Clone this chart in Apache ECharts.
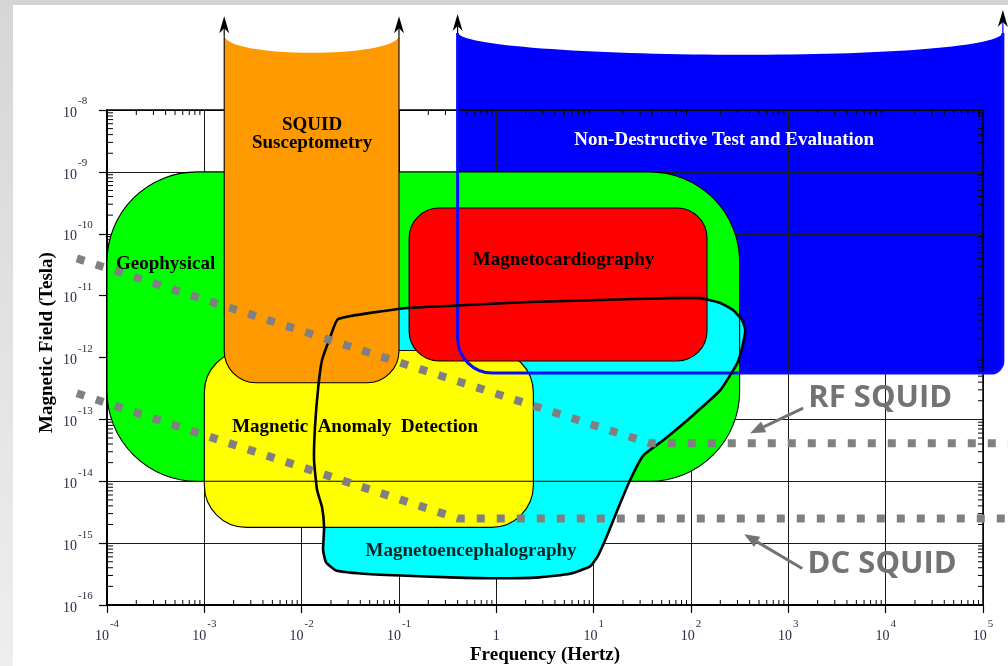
<!DOCTYPE html>
<html>
<head>
<meta charset="utf-8">
<title>SQUID applications: magnetic field vs frequency</title>
<script src="https://cdn.jsdelivr.net/npm/echarts@6/dist/echarts.min.js"></script>
<style>
  html, body { margin: 0; padding: 0; background: #fff; }
  #chart { width: 1008px; height: 666px; }
</style>
</head>
<body>
<div id="chart"></div>
<script>
// ---- axes: decades of ten (exponents) ----
const freqDecades = [-4, -3, -2, -1, 0, 1, 2, 3, 4, 5];
const fieldDecades = [-16, -15, -14, -13, -12, -11, -10, -9, -8];

// ---- application regions: [low, high] frequency (Hz) and magnetic field (T) ----
const geophysicalFreq = [1e-4, 316];
const geophysicalField = [1e-14, 1e-9];
const susceptometryFreq = [1.6e-3, 0.1];
const susceptometryField = [3.9e-13, 1.55e-7];
const cardiographyFreq = [0.127, 146];
const cardiographyField = [8.8e-13, 2.6e-10];
const anomalyFreq = [1e-3, 2.4];
const anomalyField = [1.8e-15, 1.3e-12];
const ndeFreq = [0.4, 1.6e5];
const ndeField = [5.6e-13, 1.76e-7];

// Magnetoencephalography outline (hand-drawn loop)
const megFreq = [0.0237, 0.0196, 0.0162, 0.0148, 0.0137, 0.0134, 0.0144, 0.0162, 0.0170, 0.0166,
  0.0178, 0.0226, 0.0428, 0.103, 0.335, 1.0, 2.8, 5.7, 9.2, 11.1,
  13.8, 17.5, 23.7, 32.3, 51.8, 105, 200, 299, 336, 361,
  336, 272, 200, 124, 61, 11.7, 2.2, 0.456, 0.121];
const megField = [4.2e-12, 2.1e-12, 9.1e-13, 3.3e-13, 7.5e-14, 2.2e-14, 7.2e-15, 3.8e-15, 1.8e-15, 7.7e-16,
  4.9e-16, 3.6e-16, 3.2e-16, 3.0e-16, 2.8e-16, 2.7e-16, 2.8e-16, 3.2e-16, 4.2e-16, 6.3e-16,
  1.34e-15, 3.4e-15, 1.05e-14, 2.6e-14, 4.6e-14, 1.17e-13, 2.96e-13, 8.1e-13, 1.47e-12, 2.77e-12,
  4.0e-12, 5.8e-12, 7.6e-12, 9.1e-12, 9.1e-12, 8.5e-12, 7.9e-12, 7.0e-12, 6.3e-12];

// ---- SQUID sensitivity floors ----
const rfFreq = [4.9e-5, 38, 1.8e5];
const rfField = [4.0e-11, 4.1e-14, 4.1e-14];
const dcFreq = [4.9e-5, 0.405, 1.8e5];
const dcField = [2.65e-13, 2.5e-15, 2.5e-15];

// ---- labels ----
const regionNames = ['Geophysical', 'SQUID\nSusceptometry', 'Non-Destructive Test and Evaluation',
  'Magnetocardiography', 'Magnetic  Anomaly  Detection', 'Magnetoencephalography'];
const regionLabelFreq = [4.0e-4, 0.0128, 219, 4.9, 0.0354, 0.55];
const regionLabelField = [3.2e-11, 4.1e-9, 3.3e-9, 3.75e-11, 7.5e-14, 7.4e-16];
const regionLabelColor = ['#000', '#000', '#fff', '#000', '#000', '#062626'];

const squidNames = ['RF SQUID', 'DC SQUID'];
const squidLabelFreq = [8800, 9200];
const squidLabelField = [2.2e-13, 4.55e-16];
const squidArrowFreq = [[1420, 405], [1390, 352]];
const squidArrowField = [[1.52e-13, 5.97e-14], [3.9e-16, 1.39e-15]];

// ---- styling ----
const SERIF = '"Liberation Serif", "Times New Roman", serif';
const SANS = '"Open Sans", "Noto Sans", sans-serif';
const TICK_COLOR = '#2b2b45';
const COLORS = { green: '#00ff00', orange: '#ff9900', red: '#ff0000', yellow: '#ffff00', cyan: '#00ffff', blue: '#0000ff' };

const fMin = Math.pow(10, freqDecades[0]), fMax = Math.pow(10, freqDecades[freqDecades.length - 1]);
const bMin = Math.pow(10, fieldDecades[0]), bMax = Math.pow(10, fieldDecades[fieldDecades.length - 1]);

const chart = echarts.init(document.getElementById('chart'));

function powerLabel(value, allowOne) {
  const e = Math.round(Math.log10(value));
  if (allowOne && e === 0) return '{s|\u2009}{b|1}{s|\u2009}';
  return '{b|10}{s|' + e + '}';
}

const labelRich = {
  b: { fontFamily: SERIF, fontSize: 14, color: TICK_COLOR, lineHeight: 14, verticalAlign: 'bottom' },
  s: { fontFamily: SERIF, fontSize: 11, color: TICK_COLOR, lineHeight: 11, verticalAlign: 'bottom', padding: [0, 0, 13, 1] }
};

// corner box from two data corners
function box(api, freq, field) {
  const tl = api.coord([freq[0], field[1]]);
  const br = api.coord([freq[1], field[0]]);
  return { x0: tl[0], y0: tl[1], x1: br[0], y1: br[1] };
}

function roundRect(api, freq, field, r, style, z2) {
  const b = box(api, freq, field);
  return { type: 'rect', z2, shape: { x: b.x0, y: b.y0, width: b.x1 - b.x0, height: b.y1 - b.y0, r }, style };
}

// box whose top edge sags (open-ended band running off the top of the chart)
function archedBox(api, freq, field, sag, rl, rr) {
  const b = box(api, freq, field);
  const { x0, y0, x1, y1 } = b;
  const top = `M${x0} ${y0} C${x0 + sag[0]} ${y0 + sag[1]} ${x1 - sag[2]} ${y0 + sag[3]} ${x1} ${y0}`;
  const fill = top + ` L${x1} ${y1 - rr} A${rr} ${rr} 0 0 1 ${x1 - rr} ${y1} L${x0 + rl} ${y1} A${rl} ${rl} 0 0 1 ${x0} ${y1 - rl} Z`;
  const edge = `M${x0} ${y0} L${x0} ${y1 - rl} A${rl} ${rl} 0 0 0 ${x0 + rl} ${y1} L${x1 - rr} ${y1} A${rr} ${rr} 0 0 0 ${x1} ${y1 - rr} L${x1} ${y0}`;
  return Object.assign(b, { fill, edge });
}

function upArrow(x, yFrom, rise, shaftColor, z2) {
  const tip = yFrom - rise;
  return [
    { type: 'line', z2, shape: { x1: x, y1: yFrom, x2: x, y2: tip + 8 }, style: { stroke: shaftColor, lineWidth: 1.2 } },
    { type: 'polygon', z2: z2 + 1, shape: { points: [[x, tip], [x - 5, tip + 17], [x, tip + 12], [x + 5, tip + 17]] }, style: { fill: '#000' } }
  ];
}

const NDE_SAG = [13, 27, 13, 31];
const SUS_SAG = [6, 22, 6, 22];

function renderBlueFill(params, api) {
  const nde = archedBox(api, ndeFreq, ndeField, NDE_SAG, 35, 12);
  return { type: 'path', shape: { pathData: nde.fill }, style: { fill: COLORS.blue, stroke: null } };
}

function renderMinorTicks(params, api) {
  const children = [];
  const st = { stroke: '#000', lineWidth: 1 };
  for (let i = 0; i < freqDecades.length - 1; i++) {
    for (let m = 2; m <= 9; m++) {
      const v = m * Math.pow(10, freqDecades[i]);
      const pb = api.coord([v, bMin]), pt = api.coord([v, bMax]);
      children.push({ type: 'line', shape: { x1: pb[0], y1: pb[1], x2: pb[0], y2: pb[1] - 5 }, style: st });
      children.push({ type: 'line', shape: { x1: pt[0], y1: pt[1], x2: pt[0], y2: pt[1] + 5 }, style: st });
    }
  }
  for (let i = 0; i < fieldDecades.length - 1; i++) {
    for (let m = 2; m <= 9; m++) {
      const v = m * Math.pow(10, fieldDecades[i]);
      const pl = api.coord([fMin, v]), pr = api.coord([fMax, v]);
      children.push({ type: 'line', shape: { x1: pl[0], y1: pl[1], x2: pl[0] + 6, y2: pl[1] }, style: st });
      children.push({ type: 'line', shape: { x1: pr[0], y1: pr[1], x2: pr[0] - 5, y2: pr[1] }, style: st });
    }
  }
  return { type: 'group', children };
}

function renderRegions(params, api) {
  const line = { stroke: '#000', lineWidth: 1.1 };
  const kids = [];
  // geophysical band
  kids.push(roundRect(api, geophysicalFreq, geophysicalField, 90, { fill: COLORS.green, stroke: null }, 1));
  // magnetoencephalography fill
  const meg = megFreq.map((f, i) => api.coord([f, megField[i]]));
  kids.push({ type: 'polygon', z2: 2, shape: { points: meg, smooth: 0.15 }, style: { fill: COLORS.cyan, stroke: null } });
  // magnetic anomaly detection
  kids.push(roundRect(api, anomalyFreq, anomalyField, 42, Object.assign({ fill: COLORS.yellow }, line), 3));
  // geophysical outline sits above the anomaly box
  kids.push(roundRect(api, geophysicalFreq, geophysicalField, 90, Object.assign({ fill: null }, line), 4));
  // magnetocardiography
  kids.push(roundRect(api, cardiographyFreq, cardiographyField, 30, Object.assign({ fill: COLORS.red }, line), 5));
  // susceptometry band
  const sus = archedBox(api, susceptometryFreq, susceptometryField, SUS_SAG, 32, 32);
  kids.push({ type: 'path', z2: 6, shape: { pathData: sus.fill }, style: { fill: COLORS.orange, stroke: null } });
  kids.push({ type: 'path', z2: 7, shape: { pathData: sus.edge }, style: Object.assign({ fill: null }, line) });
  // non-destructive test band outline
  const nde = archedBox(api, ndeFreq, ndeField, NDE_SAG, 35, 12);
  kids.push({ type: 'path', z2: 8, shape: { pathData: nde.edge }, style: { fill: null, stroke: '#0a0aff', lineWidth: 3 } });
  // magnetoencephalography outline
  kids.push({ type: 'polygon', z2: 9, shape: { points: meg, smooth: 0.15 }, style: { fill: null, stroke: '#000', lineWidth: 2.6, lineJoin: 'round' } });
  return { type: 'group', children: kids };
}

// dotted sensitivity floors of the RF and DC SQUIDs
function renderFloors(params, api) {
  const dotted = { fill: null, stroke: '#808080', lineWidth: 8, lineDash: [8, 12], lineCap: 'butt', lineJoin: 'round' };
  return {
    type: 'group',
    children: [
      { type: 'polyline', shape: { points: rfFreq.map((f, i) => api.coord([f, rfField[i]])) }, style: dotted },
      { type: 'polyline', shape: { points: dcFreq.map((f, i) => api.coord([f, dcField[i]])) }, style: dotted }
    ]
  };
}

function renderAnnotations(params, api) {
  const kids = [];
  const sus = archedBox(api, susceptometryFreq, susceptometryField, SUS_SAG, 32, 32);
  const nde = archedBox(api, ndeFreq, ndeField, NDE_SAG, 35, 12);
  kids.push(...upArrow(sus.x0, sus.y0, 20, '#000', 1));
  kids.push(...upArrow(sus.x1, sus.y0, 20, '#000', 1));
  kids.push(...upArrow(nde.x0, nde.y0, 19, '#000', 1));
  kids.push(...upArrow(nde.x1, nde.y0, 23, COLORS.blue, 1));

  regionNames.forEach((name, i) => {
    const p = api.coord([regionLabelFreq[i], regionLabelField[i]]);
    kids.push({
      type: 'text', x: p[0], y: p[1], z2: 20,
      style: { text: name, fill: regionLabelColor[i], font: 'bold 19px ' + SERIF, lineHeight: 18,
        align: 'center', verticalAlign: 'middle', textAlign: 'center', textVerticalAlign: 'middle' }
    });
  });

  squidNames.forEach((name, i) => {
    const a = api.coord([squidArrowFreq[i][0], squidArrowField[i][0]]);
    const b = api.coord([squidArrowFreq[i][1], squidArrowField[i][1]]);
    const ang = Math.atan2(b[1] - a[1], b[0] - a[0]);
    const L = 15, W = 6;
    const bx = b[0] - L * Math.cos(ang), by = b[1] - L * Math.sin(ang);
    kids.push({ type: 'line', z2: 15, shape: { x1: a[0], y1: a[1], x2: bx, y2: by }, style: { stroke: '#737373', lineWidth: 3 } });
    kids.push({ type: 'polygon', z2: 15, shape: { points: [b, [bx - W * Math.sin(ang), by + W * Math.cos(ang)], [bx + W * Math.sin(ang), by - W * Math.cos(ang)]] }, style: { fill: '#737373' } });
    const p = api.coord([squidLabelFreq[i], squidLabelField[i]]);
    kids.push({
      type: 'text', x: p[0], y: p[1], z2: 20,
      style: { text: name, fill: '#737373', font: 'bold 31px ' + SANS,
        align: 'center', verticalAlign: 'middle', textAlign: 'center', textVerticalAlign: 'middle' }
    });
  });
  return { type: 'group', children: kids };
}

const anchor = [[geophysicalFreq[0], geophysicalField[0]]];
const axisNameStyle = { fontFamily: SERIF, fontWeight: 'bold', fontSize: 19, color: '#000' };

const option = {
  animation: false,
  backgroundColor: '#fff',
  graphic: [
    { type: 'rect', z: -10, shape: { x: 0, y: 0, width: 1008, height: 5 }, style: { fill: '#d4d4d4' } },
    { type: 'rect', z: -10, shape: { x: 0, y: 0, width: 13, height: 666 },
      style: { fill: new echarts.graphic.LinearGradient(0, 0, 0, 1, [{ offset: 0, color: '#d6d6d6' }, { offset: 1, color: '#eeeeee' }]) } }
  ],
  grid: { left: 107, right: 25, top: 110, bottom: 61, containLabel: false, outerBoundsMode: 'none' },
  xAxis: [
    {
      type: 'log', logBase: 10, min: fMin, max: fMax, interval: 1, position: 'bottom', z: 3,
      name: 'Frequency (Hertz)', nameLocation: 'middle', nameGap: 41, nameTextStyle: axisNameStyle, nameMoveOverlap: false,
      axisLine: { show: true, onZero: false, lineStyle: { color: '#000', width: 2 } },
      axisTick: { show: true, inside: false, length: 8, lineStyle: { color: '#000', width: 1.2 } },
      minorTick: { show: false },
      splitLine: { show: true, lineStyle: { color: '#1a1a1a', width: 1 } },
      axisLabel: { show: true, margin: 24, showMinLabel: true, showMaxLabel: true, hideOverlap: false,
        formatter: v => powerLabel(v, true), rich: labelRich }
    },
    {
      type: 'log', logBase: 10, min: fMin, max: fMax, interval: 1, position: 'top', z: 3,
      axisLine: { show: true, onZero: false, lineStyle: { color: '#000', width: 1.5 } },
      axisTick: { show: false }, axisLabel: { show: false }, splitLine: { show: false }
    }
  ],
  yAxis: [
    {
      type: 'log', logBase: 10, min: bMin, max: bMax, interval: 1, position: 'left', z: 3,
      name: 'Magnetic Field (Tesla)', nameLocation: 'middle', nameGap: 50, nameMoveOverlap: false,
      nameTextStyle: Object.assign({ padding: [0, 0, 0, 30] }, axisNameStyle),
      axisLine: { show: true, onZero: false, lineStyle: { color: '#000', width: 2 } },
      axisTick: { show: true, inside: false, length: 8, lineStyle: { color: '#000', width: 1.2 } },
      minorTick: { show: false },
      splitLine: { show: true, lineStyle: { color: '#1a1a1a', width: 1 } },
      axisLabel: { show: true, margin: 44, align: 'left', padding: [6, 0, 0, 0], showMinLabel: true, showMaxLabel: true, hideOverlap: false,
        formatter: v => powerLabel(v, false), rich: labelRich }
    },
    {
      type: 'log', logBase: 10, min: bMin, max: bMax, interval: 1, position: 'right', z: 3,
      axisLine: { show: true, onZero: false, lineStyle: { color: '#000', width: 1.5 } },
      axisTick: { show: false }, axisLabel: { show: false }, splitLine: { show: false }
    }
  ],
  series: [
    { type: 'custom', name: 'Non-Destructive Test and Evaluation', coordinateSystem: 'cartesian2d', z: 1, silent: true, clip: false,
      data: anchor, renderItem: renderBlueFill },
    { type: 'custom', name: 'minor ticks', coordinateSystem: 'cartesian2d', z: 4, silent: true, clip: false,
      data: anchor, renderItem: renderMinorTicks },
    { type: 'custom', name: 'applications', coordinateSystem: 'cartesian2d', z: 5, silent: true, clip: false,
      data: anchor, renderItem: renderRegions },
    { type: 'custom', name: 'SQUID floors', coordinateSystem: 'cartesian2d', z: 6, silent: true, clip: false,
      data: anchor, renderItem: renderFloors },
    { type: 'custom', name: 'labels', coordinateSystem: 'cartesian2d', z: 7, silent: true, clip: false,
      data: anchor, renderItem: renderAnnotations }
  ]
};

chart.setOption(option);
</script>
</body>
</html>
